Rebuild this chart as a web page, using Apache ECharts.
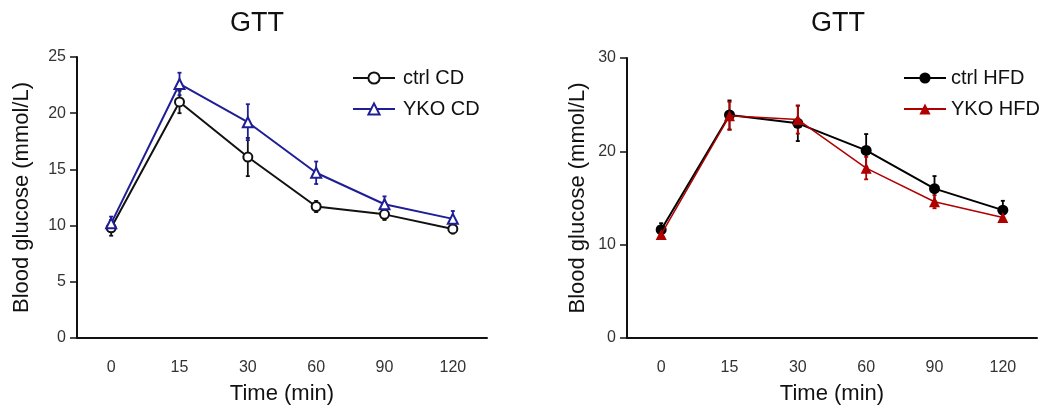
<!DOCTYPE html>
<html>
<head>
<meta charset="utf-8">
<script src="https://cdn.jsdelivr.net/npm/echarts@6/dist/echarts.min.js"></script>
<style>
html, body { margin: 0; padding: 0; background: #fff; }
#chart { width: 1047px; height: 410px; }
</style>
</head>
<body>
<div id="chart"></div>
<script>
// time points (min)
const timeLabels = ['0', '15', '30', '60', '90', '120'];

// chow diet
const ctrlCD = [9.8, 21.0, 16.1, 11.7, 11.0, 9.7];
const ctrlCDErr = [0.7, 1.0, 1.7, 0.5, 0.5, 0.4];
const ykoCD = [10.2, 22.6, 19.2, 14.7, 11.9, 10.6];
const ykoCDErr = [0.6, 1.0, 1.6, 1.0, 0.7, 0.7];

// high fat diet
const ctrlHFD = [11.6, 23.9, 23.0, 20.1, 16.0, 13.7];
const ctrlHFDErr = [0.7, 1.55, 1.9, 1.75, 1.35, 1.0];
const ykoHFD = [11.1, 23.8, 23.4, 18.2, 14.6, 12.9];
const ykoHFDErr = [0.4, 1.5, 1.5, 1.2, 0.7, 0.4];

const font = 'Liberation Sans, Arial, sans-serif';

function errData(vals, errs) {
    return vals.map((v, i) => [i, v - errs[i], v + errs[i]]);
}

function errSeries(vals, errs, color, axisIdx, w) {
    return {
        type: 'custom',
        xAxisIndex: axisIdx,
        yAxisIndex: axisIdx,
        silent: true,
        z: 3,
        data: errData(vals, errs),
        encode: { x: 0, y: [1, 2] },
        renderItem: function (params, api) {
            let lo = api.coord([api.value(0), api.value(1)]);
            let hi = api.coord([api.value(0), api.value(2)]);
            let cap = 2;
            let st = { stroke: color, lineWidth: w };
            return {
                type: 'group',
                children: [
                    { type: 'line', shape: { x1: lo[0], y1: lo[1], x2: hi[0], y2: hi[1] }, style: st },
                    { type: 'line', shape: { x1: lo[0] - cap, y1: lo[1], x2: lo[0] + cap, y2: lo[1] }, style: st },
                    { type: 'line', shape: { x1: hi[0] - cap, y1: hi[1], x2: hi[0] + cap, y2: hi[1] }, style: st }
                ]
            };
        }
    };
}

function xAxis(gridIdx) {
    return {
        type: 'category',
        gridIndex: gridIdx,
        data: timeLabels,
        name: 'Time (min)',
        nameLocation: 'middle',
        nameGap: 45,
        nameTextStyle: { fontSize: 22, color: '#111', fontFamily: font },
        axisLine: { lineStyle: { color: '#111', width: 2 } },
        axisTick: { alignWithLabel: true, length: 7, lineStyle: { color: '#111', width: 1.5 } },
        axisLabel: { fontSize: 16, color: '#333', fontFamily: font, margin: 22 },
        splitLine: { show: false }
    };
}

function yAxis(gridIdx, max, interval, gap) {
    return {
        type: 'value',
        gridIndex: gridIdx,
        min: 0,
        max: max,
        interval: interval,
        name: 'Blood glucose (mmol/L)',
        nameLocation: 'middle',
        nameGap: gap,
        nameTextStyle: { fontSize: 22, color: '#111', fontFamily: font },
        axisLine: { show: true, lineStyle: { color: '#111', width: 2 } },
        axisTick: { show: true, length: 7, lineStyle: { color: '#111', width: 1.5 } },
        axisLabel: { fontSize: 16, color: '#333', fontFamily: font, margin: 11 },
        splitLine: { show: false }
    };
}

let myChart = echarts.init(document.getElementById('chart'));
let option = {
    animation: false,
    backgroundColor: '#fff',
    title: [
        { text: 'GTT', left: 252, top: 5, textAlign: 'center', textStyle: { fontSize: 27, fontWeight: 'normal', color: '#111', fontFamily: font } },
        { text: 'GTT', left: 833, top: 5, textAlign: 'center', textStyle: { fontSize: 27, fontWeight: 'normal', color: '#111', fontFamily: font } }
    ],
    legend: [
        {
            data: ['ctrl CD', 'YKO CD'],
            orient: 'vertical',
            left: 347, top: 63,
            itemWidth: 42, itemHeight: 14, itemGap: 11,
            textStyle: { fontSize: 20, color: '#111', fontFamily: font, padding: [0, 0, 0, 3] }
        },
        {
            data: ['ctrl HFD', 'YKO HFD'],
            orient: 'vertical',
            left: 898, top: 63,
            itemWidth: 42, itemHeight: 14, itemGap: 11,
            textStyle: { fontSize: 20, color: '#111', fontFamily: font, padding: [0, 0, 0, 0] }
        }
    ],
    grid: [
        { left: 77, top: 57, width: 410, height: 292 },
        { left: 627, top: 58, width: 410, height: 291 }
    ],
    xAxis: [xAxis(0), xAxis(1)],
    yAxis: [yAxis(0, 25, 5, 44), yAxis(1, 30, 10, 38)],
    series: [
        {
            name: 'ctrl CD', type: 'line', data: ctrlCD,
            xAxisIndex: 0, yAxisIndex: 0, z: 4,
            symbol: 'emptyCircle', symbolSize: 9,
            color: '#111',
            lineStyle: { color: '#111', width: 2 },
            itemStyle: { color: '#111', borderColor: '#111', borderWidth: 1.8 }
        },
        {
            name: 'YKO CD', type: 'line', data: ykoCD,
            xAxisIndex: 0, yAxisIndex: 0, z: 4,
            symbol: 'emptyTriangle', symbolSize: 10,
            color: '#1e1e96',
            lineStyle: { color: '#1e1e96', width: 2 },
            itemStyle: { color: '#1e1e96', borderColor: '#1e1e96', borderWidth: 1.8 }
        },
        {
            name: 'ctrl HFD', type: 'line', data: ctrlHFD,
            xAxisIndex: 1, yAxisIndex: 1, z: 4,
            symbol: 'circle', symbolSize: 11,
            color: '#000',
            lineStyle: { color: '#000', width: 2 },
            itemStyle: { color: '#000' }
        },
        {
            name: 'YKO HFD', type: 'line', data: ykoHFD,
            xAxisIndex: 1, yAxisIndex: 1, z: 5,
            symbol: 'triangle', symbolSize: 11,
            color: '#b00000',
            lineStyle: { color: '#b00000', width: 1.5 },
            itemStyle: { color: '#b00000' }
        },
        errSeries(ctrlCD, ctrlCDErr, '#111', 0, 1.8),
        errSeries(ykoCD, ykoCDErr, '#1e1e96', 0, 1.8),
        errSeries(ctrlHFD, ctrlHFDErr, '#000', 1, 1.8),
        errSeries(ykoHFD, ykoHFDErr, '#b00000', 1, 1.8)
    ]
};
myChart.setOption(option);
</script>
</body>
</html>
